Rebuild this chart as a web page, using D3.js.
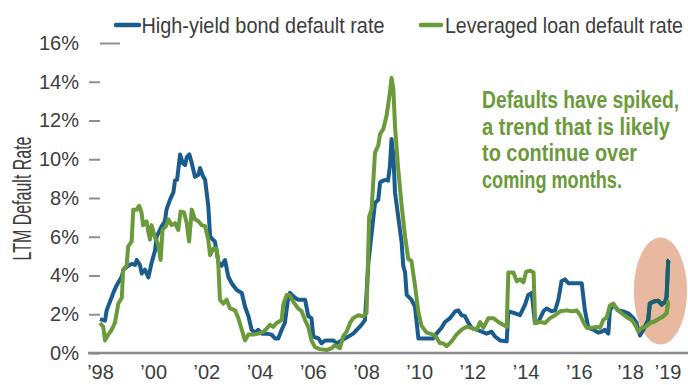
<!DOCTYPE html>
<html><head><meta charset="utf-8">
<script src="https://cdn.jsdelivr.net/npm/d3@7"></script>
<style>body{margin:0;background:#fff} svg{display:block}</style>
</head><body><svg id="chart" width="688" height="385"></svg>
<script>
// ---- data ----
const hyYears = [1998.00,1998.19,1998.25,1998.50,1998.63,1998.82,1998.88,1999.06,1999.19,1999.32,1999.38,1999.50,1999.57,1999.69,1999.82,1999.94,2000.07,2000.13,2000.32,2000.44,2000.50,2000.63,2000.76,2000.82,2000.90,2001.01,2001.11,2001.20,2001.26,2001.36,2001.45,2001.57,2001.70,2001.76,2001.88,2001.95,2002.07,2002.14,2002.32,2002.45,2002.57,2002.70,2002.82,2002.95,2003.14,2003.33,2003.45,2003.58,2003.70,2003.83,2003.95,2004.08,2004.26,2004.45,2004.58,2004.70,2004.83,2004.95,2005.08,2005.14,2005.33,2005.45,2005.71,2005.83,2005.95,2006.02,2006.21,2006.33,2006.46,2006.77,2006.90,2007.02,2007.21,2007.52,2007.83,2007.96,2008.09,2008.27,2008.34,2008.46,2008.53,2008.65,2008.78,2008.83,2008.90,2008.96,2009.03,2009.09,2009.21,2009.34,2009.40,2009.47,2009.53,2009.71,2009.84,2009.97,2010.53,2010.65,2010.84,2010.97,2011.16,2011.35,2011.47,2011.59,2011.72,2011.85,2011.97,2012.16,2012.35,2012.53,2012.72,2012.85,2013.04,2013.29,2013.35,2013.60,2013.79,2013.98,2014.10,2014.23,2014.35,2014.48,2014.67,2014.79,2014.98,2015.11,2015.23,2015.35,2015.48,2015.61,2016.11,2016.23,2016.36,2016.55,2016.73,2016.86,2016.98,2017.11,2017.17,2017.30,2017.48,2017.67,2017.86,2018.05,2018.17,2018.30,2018.42,2018.61,2018.67,2018.80,2018.99,2019.11,2019.25,2019.30,2019.36,2019.40];
const hyRates = [1.75,1.67,2.2,3.1,3.5,3.95,4.3,4.5,4.6,4.55,4.8,4.55,4.1,4.3,3.9,4.65,5.3,6.0,6.55,6.8,7.4,7.9,8.3,8.9,8.95,10.25,9.8,9.7,10.1,10.25,9.8,9.1,9.2,9.55,9.1,8.95,7.6,6.0,5.75,4.7,4.5,4.8,3.95,3.6,3.25,3.1,2.4,1.9,1.2,1.05,1.2,1.0,1.0,0.95,0.75,0.75,1.2,1.55,2.9,3.1,2.85,2.75,2.75,1.9,1.8,0.85,0.75,0.5,0.65,0.65,0.5,0.6,0.75,1.0,1.45,1.7,4.65,6.9,7.75,7.9,8.8,8.9,8.95,8.9,9.65,11.05,10.2,8.3,7.05,5.7,4.5,4.15,3.0,2.75,2.4,0.75,0.75,1.0,1.3,1.6,1.8,2.15,2.2,1.95,1.9,1.55,1.3,1.2,1.1,1.0,1.1,0.85,0.65,0.6,2.15,2.05,1.95,2.5,3.0,3.1,1.55,1.6,2.15,2.3,2.15,2.2,2.75,3.7,3.8,3.6,3.6,2.2,1.3,1.2,1.05,1.1,1.2,1.0,2.2,2.5,2.2,2.15,2.05,1.8,1.55,0.9,1.2,1.7,2.55,2.65,2.7,2.5,2.65,2.9,4.75,4.8];

const loanYears = [1998.00,1998.12,1998.19,1998.31,1998.44,1998.56,1998.69,1998.82,1998.87,1999.00,1999.06,1999.19,1999.25,1999.38,1999.47,1999.56,1999.62,1999.75,1999.81,1999.88,1999.94,2000.07,2000.19,2000.28,2000.35,2000.48,2000.57,2000.69,2000.82,2000.94,2001.03,2001.16,2001.26,2001.35,2001.45,2001.57,2001.70,2001.82,2001.95,2002.07,2002.14,2002.26,2002.38,2002.44,2002.51,2002.63,2002.76,2002.89,2003.08,2003.20,2003.33,2003.45,2003.58,2003.76,2003.95,2004.14,2004.26,2004.39,2004.51,2004.64,2004.83,2004.89,2005.02,2005.12,2005.26,2005.45,2005.58,2005.71,2005.83,2005.95,2006.08,2006.27,2006.52,2006.71,2006.83,2007.02,2007.14,2007.27,2007.40,2007.52,2007.71,2007.89,2008.02,2008.12,2008.21,2008.34,2008.46,2008.53,2008.65,2008.78,2008.90,2008.96,2009.03,2009.09,2009.21,2009.34,2009.47,2009.59,2009.71,2009.84,2009.97,2010.09,2010.28,2010.53,2010.65,2010.78,2010.90,2011.03,2011.22,2011.40,2011.59,2011.78,2011.97,2012.16,2012.29,2012.41,2012.60,2012.79,2012.98,2013.17,2013.29,2013.35,2013.54,2013.67,2013.79,2013.92,2014.02,2014.17,2014.30,2014.36,2014.55,2014.74,2014.92,2015.11,2015.30,2015.55,2015.74,2015.92,2016.05,2016.17,2016.30,2016.49,2016.68,2016.80,2016.92,2017.05,2017.17,2017.30,2017.43,2017.61,2017.80,2017.99,2018.12,2018.24,2018.37,2018.50,2018.68,2018.87,2019.06,2019.18,2019.30,2019.36,2019.40];
const loanRates = [1.55,1.35,0.65,0.95,1.2,1.55,2.55,2.85,4.3,4.5,5.5,5.75,7.4,7.4,7.6,7.25,6.6,6.8,6.3,5.85,6.6,5.95,5.6,4.8,6.35,6.55,6.9,6.6,6.7,6.35,7.3,7.25,6.7,5.75,7.4,6.9,6.8,6.6,6.55,5.85,5.05,5.4,5.4,4.8,2.75,2.55,2.75,2.3,2.2,1.8,1.2,0.65,0.95,0.95,1.0,1.1,1.25,1.45,1.35,1.55,1.7,2.5,3.0,3.0,2.65,2.3,2.15,1.7,1.35,0.65,0.3,0.2,0.15,0.25,0.4,0.25,0.85,1.1,1.55,1.8,1.95,1.9,2.05,7.05,7.4,10.35,10.7,11.3,11.55,12.3,13.45,14.2,13.6,11.7,9.5,7.6,6.0,4.85,4.75,3.5,2.1,1.4,1.05,0.95,0.8,0.5,0.5,0.35,0.6,0.95,1.2,1.35,1.3,1.2,1.6,1.3,1.8,1.8,1.6,1.45,1.35,4.15,4.15,3.7,3.8,3.65,4.2,4.25,4.15,1.55,1.6,1.55,1.8,1.95,2.15,2.2,2.15,2.2,1.95,1.6,1.3,1.3,1.35,1.3,1.7,1.85,2.45,2.55,2.25,2.05,1.85,1.7,1.45,1.1,1.3,1.35,1.55,1.65,1.8,1.9,2.05,2.65,2.65];

const yTicks = [0, 2, 4, 6, 8, 10, 12, 14, 16];
const xTickYears = [1998, 2000, 2002, 2004, 2006, 2008, 2010, 2012, 2014, 2016, 2018, 2019];
const xTickLabels = ["’98", "’00", "’02", "’04", "’06", "’08", "’10", "’12", "’14", "’16", "’18", "’19"];
const seriesNames = ["High-yield bond default rate", "Leveraged loan default rate"];
const yAxisTitle = "LTM Default Rate";
const noteLines = ["Defaults have spiked,", "a trend that is likely", "to continue over", "coming months."];
// highlight ellipse (data units)
const hlYear = 2019.07, hlRate = 3.2, hlHalfYears = 1.0, hlHalfRate = 2.76;

// ---- styles ----
const BLUE = "#1a5c8e", GREEN = "#6b9a3b", TEAL = "#17606c", SALMON = "#e8b8a0";
const FONT = "'Liberation Sans Narrow','Liberation Sans',Arial,sans-serif";
const LW = 4;

const svg = d3.select("#chart");
const x = d3.scaleLinear().domain([1998, 2019]).range([100, 658.6]);
const y = d3.scaleLinear().domain([0, 16]).range([353, 43]);

// highlight ellipse
const ecx = x(hlYear), ecy = y(hlRate);
const erx = x(hlYear + hlHalfYears) - ecx, ery = y(hlRate - hlHalfRate) - ecy;
svg.append("ellipse").attr("cx", ecx).attr("cy", ecy).attr("rx", erx).attr("ry", ery)
  .attr("fill", SALMON);
svg.append("clipPath").attr("id", "hlclip").append("ellipse")
  .attr("cx", ecx).attr("cy", ecy).attr("rx", erx).attr("ry", ery);

// y axis
const yAxis = d3.axisLeft(y).tickValues(yTicks).tickSize(11).tickPadding(10).tickFormat(d => d + "%");
const gy = svg.append("g").attr("transform", "translate(100,0)").call(yAxis);
gy.select(".domain").remove();
gy.selectAll(".tick line").attr("stroke", "#8f8f8f").attr("stroke-width", 2);
gy.selectAll(".tick line").filter(d => d === 16).attr("x2", 20);
gy.selectAll(".tick text").attr("font-family", FONT).attr("font-size", 20).attr("fill", "#3d3d3d");

// x axis baseline
svg.append("line").attr("x1", 88).attr("x2", 688).attr("y1", y(0)).attr("y2", y(0))
  .attr("stroke", "#8c8c8c").attr("stroke-width", 2.5);
const xAxis = d3.axisBottom(x).tickValues(xTickYears).tickSize(0).tickPadding(12)
  .tickFormat((d, i) => xTickLabels[i]);
const gx = svg.append("g").attr("transform", `translate(0,${y(0)})`).call(xAxis);
gx.select(".domain").remove();
gx.selectAll(".tick text").attr("font-family", FONT).attr("font-size", 20).attr("fill", "#3d3d3d")
  .attr("dx", d => d === 2019 ? 9 : (d === 2018 ? -2 : 0));

// y title
svg.append("text").attr("transform", `translate(31,${198.5}) rotate(-90)`)
  .attr("text-anchor", "middle").attr("font-family", FONT).attr("font-size", 25)
  .attr("fill", "#3d3d3d").attr("textLength", 124).attr("lengthAdjust", "spacingAndGlyphs")
  .text(yAxisTitle);

// lines
const line = d3.line().x(d => x(d[0])).y(d => y(d[1]));
const hy = d3.zip(hyYears, hyRates), loan = d3.zip(loanYears, loanRates);
svg.append("path").datum(hy).attr("d", line).attr("fill", "none").attr("stroke", BLUE)
  .attr("stroke-width", LW).attr("stroke-linejoin", "round");
svg.append("path").datum(loan).attr("d", line).attr("fill", "none").attr("stroke", GREEN)
  .attr("stroke-width", LW).attr("stroke-linejoin", "round");
svg.append("path").datum(hy).attr("d", line).attr("fill", "none").attr("stroke", TEAL)
  .attr("stroke-width", LW).attr("stroke-linejoin", "round").attr("clip-path", "url(#hlclip)");
svg.append("path").datum(loan).attr("d", line).attr("fill", "none").attr("stroke", GREEN)
  .attr("stroke-width", LW).attr("stroke-linejoin", "round").attr("clip-path", "url(#hlclip)");

// legend
const legend = [
  {name: seriesNames[0], color: BLUE, lx1: 116, lx2: 139, tx: 141.5, tw: 243},
  {name: seriesNames[1], color: GREEN, lx1: 421, lx2: 441, tx: 445, tw: 238}
];
const lg = svg.append("g");
legend.forEach(l => {
  lg.append("line").attr("x1", l.lx1).attr("x2", l.lx2).attr("y1", 25).attr("y2", 25)
    .attr("stroke", l.color).attr("stroke-width", 4.5).attr("stroke-linecap", "round");
  lg.append("text").attr("x", l.tx).attr("y", 32.5).attr("font-family", FONT).attr("font-size", 22.5)
    .attr("fill", "#3d3d3d").attr("textLength", l.tw).attr("lengthAdjust", "spacingAndGlyphs").text(l.name);
});

// annotation
const noteWidths = [197, 188, 155, 140];
svg.append("g").selectAll("text").data(noteLines).join("text")
  .attr("x", 482).attr("y", (d, i) => 108 + i * 26.5)
  .attr("font-family", FONT).attr("font-size", 23).attr("font-weight", "bold").attr("fill", "#6a9a3a")
  .attr("textLength", (d, i) => noteWidths[i]).attr("lengthAdjust", "spacingAndGlyphs")
  .text(d => d);
</script></body></html>
